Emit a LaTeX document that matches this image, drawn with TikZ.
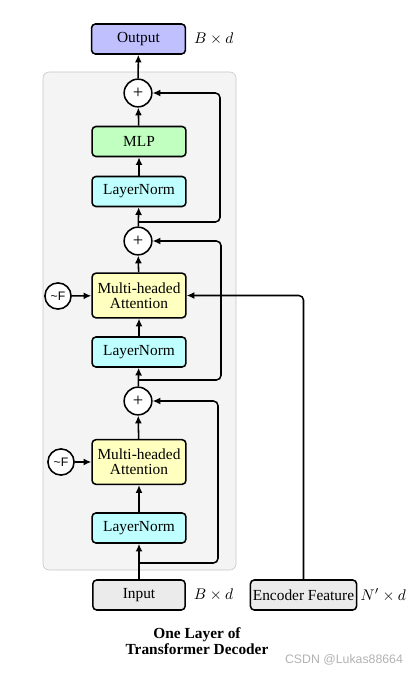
\documentclass[tikz,border=0pt]{standalone}
\usepackage{fontspec}
\setmainfont{Liberation Serif}
\setsansfont{Liberation Sans}
\usetikzlibrary{arrows.meta, positioning, calc}

\definecolor{outblue}{HTML}{C0C0FF}
\definecolor{mlpgreen}{HTML}{C0FFC0}
\definecolor{normcyan}{HTML}{C0FFFF}
\definecolor{attnyellow}{HTML}{FFFFC0}
\definecolor{iogray}{HTML}{EBEBEB}
\definecolor{layerbg}{HTML}{F4F4F4}

\tikzset{
  block/.style={draw, line width=1pt, rounded corners=2.5pt, minimum width=61pt,
                minimum height=19.5pt, inner sep=2pt, align=center},
  addnode/.style={draw, circle, line width=1pt, fill=white, minimum size=18pt, inner sep=0pt,
                  font=\large},
  noisenode/.style={draw, circle, line width=1pt, fill=white, minimum size=17pt, inner sep=0pt,
                    font=\sffamily\footnotesize},
  flow/.style={-{Latex[length=5pt,width=4.5pt]}, line width=1pt},
  dimlabel/.style={right, inner sep=2pt}
}

\begin{document}
\begin{tikzpicture}[x=0.65pt, y=-0.65pt]
  \useasboundingbox (0,0) rectangle (413,673);

  % decoder layer background
  \draw[gray!45, fill=layerbg, rounded corners=4pt] (43,72) rectangle (236,570);

  % blocks
  \node[block, fill=outblue] (out) at (138.5,39) {Output};
  \node[dimlabel] at (out.east) [xshift=3pt] {$B\times d$};
  \node[addnode] (add3) at (138,93) {+};
  \node[block, fill=mlpgreen] (mlp) at (139,141.5) {MLP};
  \node[block, fill=normcyan] (ln3) at (139,191.5) {LayerNorm};
  \node[addnode] (add2) at (138,241) {+};
  \node[block, fill=attnyellow, minimum height=29pt] (mha2) at (139,295.5) {Multi-headed\\[-2pt]Attention};
  \node[noisenode] (fa2) at (58,296) {\textasciitilde F};
  \node[block, fill=normcyan] (ln2) at (139,352) {LayerNorm};
  \node[addnode] (add1) at (138,401) {+};
  \node[block, fill=attnyellow, minimum height=29pt] (mha1) at (139,462) {Multi-headed\\[-2pt]Attention};
  \node[noisenode] (fa1) at (61,462) {\textasciitilde F};
  \node[block, fill=normcyan] (ln1) at (139,528) {LayerNorm};
  \node[block, fill=iogray, minimum width=60pt] (inp) at (139,595) {Input};
  \node[dimlabel] at (inp.east) [xshift=3pt] {$B\times d$};
  \node[block, fill=iogray, minimum width=69pt, inner sep=1pt] (enc) at (303.5,595) {Encoder Feature};
  \node[dimlabel] at (enc.east) {$N'\times d$};

  % main path
  \draw[flow] (inp) -- (ln1);
  \draw[flow] (ln1) -- (mha1);
  \draw[flow] (fa1) -- (mha1);
  \draw[flow] (mha1) -- (add1);
  \draw[flow] (add1) -- (ln2);
  \draw[flow] (ln2) -- (mha2);
  \draw[flow] (fa2) -- (mha2);
  \draw[flow] (mha2) -- (add2);
  \draw[flow] (add2) -- (ln3);
  \draw[flow] (ln3) -- (mlp);
  \draw[flow] (mlp) -- (add3);
  \draw[flow] (add3) -- (out);

  % residual connections
  \coordinate (res1) at (138,563);
  \coordinate (res2) at (138,380);
  \coordinate (res3) at (138,222);
  \draw[flow, rounded corners=3pt] (res1) -- ++(80,0) |- (add1);
  \draw[flow, rounded corners=3pt] (res2) -- ++(83,0) |- (add2);
  \draw[flow, rounded corners=3pt] (res3) -- ++(82,0) |- (add3);

  % encoder feature into cross attention
  \draw[flow, rounded corners=3pt] (enc) |- (mha2);

  % caption
  \node[font=\bfseries, align=center] (cap) at (197,641) {One Layer of\\[-2pt]Transformer Decoder};
  \node[font=\sffamily\fontsize{8}{9}\selectfont, text=gray!60] (mark) at (344,660) {CSDN @Lukas88664};
\end{tikzpicture}
\end{document}
